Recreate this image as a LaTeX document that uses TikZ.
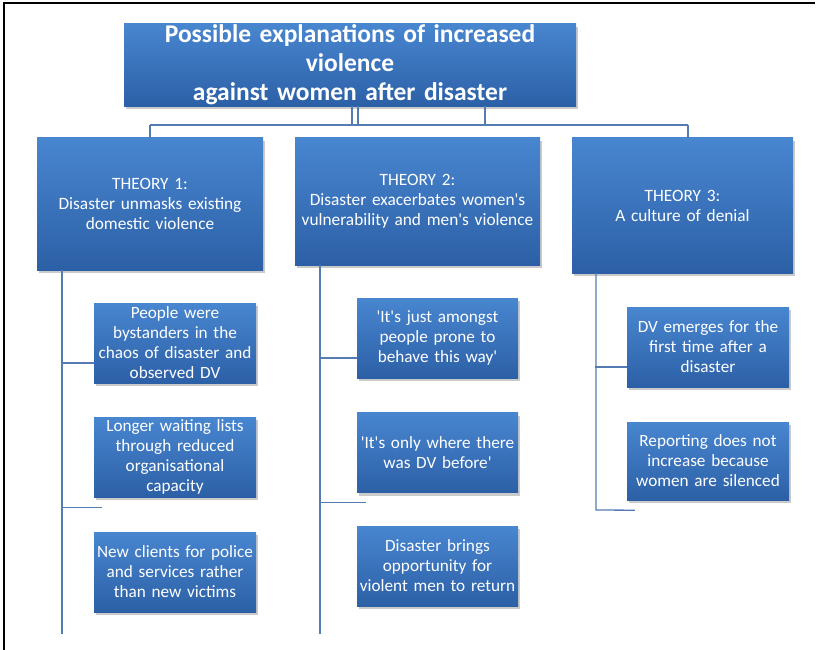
\documentclass[tikz,border=0pt]{standalone}
\usepackage{fontspec}
\setmainfont{Carlito}
\usetikzlibrary{shadows,calc}
\newcommand\apostr{\textquotesingle}
\definecolor{boxtop}{RGB}{72,134,208}
\definecolor{boxbot}{RGB}{44,96,166}
\definecolor{linec}{RGB}{84,124,178}
\tikzset{
  bluebox/.style={rectangle, top color=boxtop, bottom color=boxbot, draw=none,
    text=white, align=center, inner sep=1pt,
    drop shadow={shadow xshift=2pt, shadow yshift=-3pt, opacity=0.35, fill=black!60}},
  titlebox/.style={bluebox, font=\fontsize{25.5}{29}\selectfont\bfseries},
  theorybox/.style={bluebox, font=\fontsize{17.3}{20}\selectfont},
  childbox/.style={bluebox, font=\fontsize{17.2}{20}\selectfont, minimum width=160pt, minimum height=80pt, text width=160pt},
  conn/.style={draw=linec, line width=1.3pt},
  frame/.style={draw=black, line width=1.3pt}
}
\begin{document}
\begin{tikzpicture}[x=1pt,y=-1pt]
\useasboundingbox (0,0) rectangle (819,650);
\draw[frame] (4,650) -- (4,3) -- (815,3);

\node[titlebox, minimum width=450pt, minimum height=80pt, text width=450pt] (title) at (350,65)
  {Possible explanations of increased\\violence\\against women after disaster};

\node[theorybox, minimum width=224pt, minimum height=132pt, text width=224pt] (t1) at (150,204)
  {THEORY 1:\\Disaster unmasks existing\\domestic violence};
\node[theorybox, minimum width=243pt, minimum height=127pt, text width=243pt] (t2) at (417.5,201.5)
  {THEORY 2:\\Disaster exacerbates women\apostr s\\vulnerability and men\apostr s violence};
\node[theorybox, minimum width=219pt, minimum height=135pt, text width=219pt] (t3) at (682.5,205.5)
  {THEORY 3:\\A culture of denial};

\node[childbox] (c1) at (175,343) {People were\\bystanders in the\\chaos of disaster and\\observed DV};
\node[childbox] (c2) at (175,457) {Longer waiting lists\\through reduced\\organisational\\capacity};
\node[childbox] (c3) at (175,572) {New clients for police\\and services rather\\than new victims};

\node[childbox, minimum width=159pt, text width=159pt] (c4) at (437.5,338) {\apostr It\apostr s just amongst\\people prone to\\behave this way\apostr};
\node[childbox, minimum width=159pt, text width=159pt] (c5) at (437.5,452.5) {\apostr It\apostr s only where there\\was DV before\apostr};
\node[childbox, minimum width=159pt, text width=159pt] (c6) at (437.5,566) {Disaster brings\\opportunity for\\violent men to return};

\node[childbox] (c7) at (708,347) {DV emerges for the\\first time after a\\disaster};
\node[childbox, minimum height=78pt] (c8) at (708,461) {Reporting does not\\increase because\\women are silenced};

% top connectors
\coordinate (busL) at (150,125);
\coordinate (busR) at (688,125);
\draw[conn] ([xshift=2pt]title.south) -- ([xshift=2pt]title.south |- busL);
\draw[conn] ([xshift=8pt]title.south) -- ([xshift=8pt]title.south |- busL);
\draw[conn] ([xshift=135pt]title.south) -- ([xshift=135pt]title.south |- busL);
\draw[conn] (busL) -- (busR);
\draw[conn] (busL) -- (t1.north -| busL);
\draw[conn] ($(t2.north west)+(66,0)$) -- ($(t2.north west)+(66,0)$ |- busL);
\draw[conn] (busR) -- (t3.north -| busR);

% theory 1 branch
\coordinate (e1) at (62,634);
\draw[conn] (t1.south west -| e1) -- (e1);
\draw[conn] ($(c1.west)+(0,20)$) -- ($(c1.west)+(-33,20)$);
\draw[conn] ($(c2.south west)+(-33,10)$) -- ($(c2.south west)+(8,10)$);

% theory 2 branch
\coordinate (e2) at (320,634);
\draw[conn] (t2.south west -| e2) -- (e2);
\draw[conn] ($(c4.west)+(0,20)$) -- ($(c4.west)+(-38,20)$);
\draw[conn] ($(c5.south west)+(-38,10)$) -- ($(c5.south west)+(9,10)$);

% theory 3 branch
\coordinate (e3) at (596,510);
\draw[conn] (t3.south west -| e3) -- (e3) -- ($(c8.south west)+(8,10)$);
\draw[conn] ($(c7.west)+(0,20)$) -- ($(c7.west)+(-32,20)$);
\end{tikzpicture}
\end{document}
